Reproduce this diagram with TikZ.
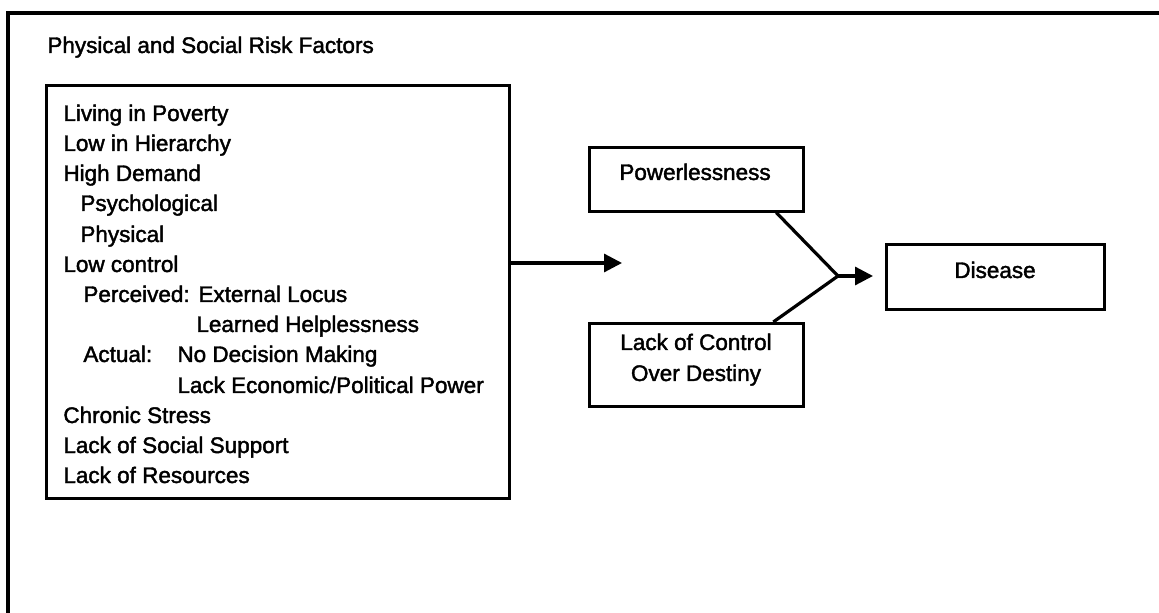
\documentclass[tikz,border=0pt]{standalone}
\usepackage{fontspec}
\setmainfont{Liberation Sans}
\newfontfamily\diagfont[FakeBold=1.8]{Liberation Sans}
\usetikzlibrary{arrows.meta,calc}
\newcommand{\txtfont}{\diagfont\fontsize{11.25}{15}\selectfont}
\begin{document}
\begin{tikzpicture}[x=0.5pt,y=-0.5pt,
  lbl/.style={anchor=base west, inner sep=0pt, font=\txtfont},
  ctr/.style={anchor=base, inner sep=0pt, font=\txtfont},
  box/.style={draw, line width=1.3pt, anchor=north west, inner sep=0pt},
  link/.style={line width=1.6pt},
  arr/.style={line width=1.6pt, -{Triangle[length=9pt,width=9pt]}}]
\useasboundingbox (0,0) rectangle (1159,613);
% outer frame (top and left edges only)
\coordinate (frameTL) at (8,13);
\coordinate (frameTR) at (1159,13);
\coordinate (frameBL) at (8,613);
\draw[line width=1.8pt] (frameTR) -- (frameTL) -- (frameBL);
\node[lbl] (title) at (47,53) {Physical and Social Risk Factors};
% risk factor list
\node[box, minimum width=231.5pt, minimum height=206.5pt] (risks) at (45,84) {};
\node[lbl] (r0) at (63,121) {Living in Poverty};
\node[lbl] (r1) at (63,151) {Low in Hierarchy};
\node[lbl] (r2) at (63,181) {High Demand};
\node[lbl] (r3) at (80,211) {Psychological};
\node[lbl] (r4) at (80,242) {Physical};
\node[lbl] (r5) at (63,272) {Low control};
\node[lbl] (r6) at (83,302) {Perceived:};
\node[lbl] (r6b) at (198,302) {External Locus};
\node[lbl] (r7) at (196,332) {Learned Helplessness};
\node[lbl] (r8) at (83,362) {Actual:};
\node[lbl] (r8b) at (177,362) {No Decision Making};
\node[lbl] (r9) at (177,393) {Lack Economic/Political Power};
\node[lbl] (r10) at (63,423) {Chronic Stress};
\node[lbl] (r11) at (63,453) {Lack of Social Support};
\node[lbl] (r12) at (63,483) {Lack of Resources};
% outcome boxes
\node[box, minimum width=107pt, minimum height=32pt] (pw) at (588,146) {};
\node[ctr] (pwt) at (695,180) {Powerlessness};
\node[box, minimum width=107pt, minimum height=41.5pt] (lc) at (588,322) {};
\node[ctr] (lct1) at (696,350) {Lack of Control};
\node[ctr] (lct2) at (696,381) {Over Destiny};
\node[box, minimum width=109pt, minimum height=32.5pt] (dis) at (885,243) {};
\node[ctr] (dist) at (995,278) {Disease};
% connectors
\coordinate (tip) at (622,263);
\draw[arr] ($(risks.north east)+(0,179)$) -- (tip);
\coordinate (join) at (838,276);
\draw[link] ($(pw.south)+(80,0)$) -- (join) -- ($(lc.north)+(77,0)$);
\draw[arr, shorten >=6pt] (join) -- (dis.west |- join);
\end{tikzpicture}
\end{document}
